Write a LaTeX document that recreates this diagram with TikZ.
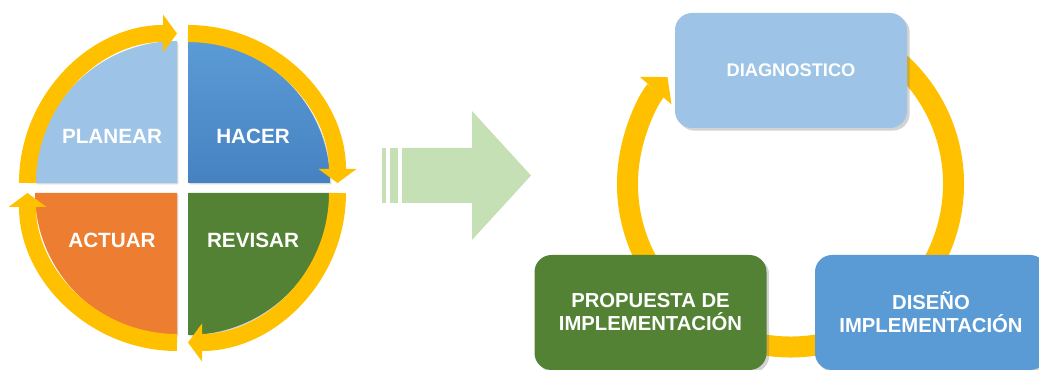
\documentclass[tikz,border=0pt]{standalone}
\usepackage{fontspec}
\setsansfont{Liberation Sans}
\usetikzlibrary{arrows.meta,shadows,calc}

\definecolor{paleblue}{HTML}{9DC3E6}
\definecolor{midblue}{HTML}{5B9BD5}
\definecolor{deepblue}{HTML}{4682C2}
\definecolor{pdcaorange}{HTML}{ED7D31}
\definecolor{pdcagreen}{HTML}{548235}
\definecolor{ringyellow}{HTML}{FFC000}
\definecolor{palegreen}{HTML}{C5E0B4}

\begin{document}
\begin{tikzpicture}[x=0.75pt,y=0.75pt,
   quarter/.style={drop shadow={opacity=0.3,shadow xshift=1pt,shadow yshift=-1pt}},
   quarter label/.style={text=white,font=\sffamily\bfseries\fontsize{15.5}{18}\selectfont},
   loop arrow/.style={draw=ringyellow,line width=12.75pt,
      -{Triangle[width=28.5pt,length=10.5pt,line width=0pt]}},
   stage/.style={rounded corners=12.75pt,minimum width=174pt,minimum height=86.25pt,
      inner sep=0pt,align=center,text=white,
      font=\sffamily\bfseries\fontsize{15.2}{17.25}\selectfont,
      drop shadow={opacity=0.35,shadow xshift=2pt,shadow yshift=-2pt}},
   ring arrow/.style={draw=ringyellow,line width=15.75pt,
      -{Triangle[width=31.5pt,length=13.5pt,line width=0pt]}}]
\useasboundingbox (0,0) rectangle (1039,370);

% PDCA circle
\coordinate (pl) at (177,187);
\coordinate (ha) at (188,187);
\coordinate (ac) at (177,177);
\coordinate (re) at (188,177);
\fill[paleblue,quarter] (pl) -- ++(180:142) arc (180:90:142) -- cycle;
\shade[top color=midblue,bottom color=deepblue,quarter] (ha) -- ++(90:142) arc (90:0:142) -- cycle;
\fill[pdcaorange,quarter] (ac) -- ++(-90:142) arc (-90:-180:142) -- cycle;
\fill[pdcagreen,quarter] (re) -- ++(0:142) arc (0:-90:142) -- cycle;
\node[quarter label] (planear) at ($(pl)+(-65,47)$) {PLANEAR};
\node[quarter label] (hacer) at ($(ha)+(65,47)$) {HACER};
\node[quarter label] (actuar) at ($(ac)+(-65,-47)$) {ACTUAR};
\node[quarter label] (revisar) at ($(re)+(65,-47)$) {REVISAR};
\draw[loop arrow] ($(pl)+(180:149.5)$) arc (180:90:149.5);
\draw[loop arrow] ($(ha)+(90:149.5)$) arc (90:0:149.5);
\draw[loop arrow] ($(re)+(0:149.5)$) arc (0:-90:149.5);
\draw[loop arrow] ($(ac)+(-90:149.5)$) arc (-90:-180:149.5);

% striped arrow
\fill[palegreen] (382,167) rectangle (386,222);
\fill[palegreen] (390,167) rectangle (398,222);
\fill[palegreen] (402,167) -- (472,167) -- (472,130) -- (531,194.5)
   -- (472,259) -- (472,222) -- (402,222) -- cycle;

% improvement cycle
\coordinate (ring) at (790.5,186);
\draw[ring arrow] ($(ring)+(80:163)$) arc (80:-221:163);
\node[stage,fill=paleblue,font=\sffamily\bfseries\fontsize{13.7}{16}\selectfont]
   (diag) at (791,299.5) {DIAGNOSTICO};
\node[stage,fill=midblue] (diseno) at (931,57.5) {DISEÑO\\IMPLEMENTACIÓN};
\node[stage,fill=pdcagreen] (propuesta) at (650.5,57.5) {PROPUESTA DE\\IMPLEMENTACIÓN};
\end{tikzpicture}
\end{document}
